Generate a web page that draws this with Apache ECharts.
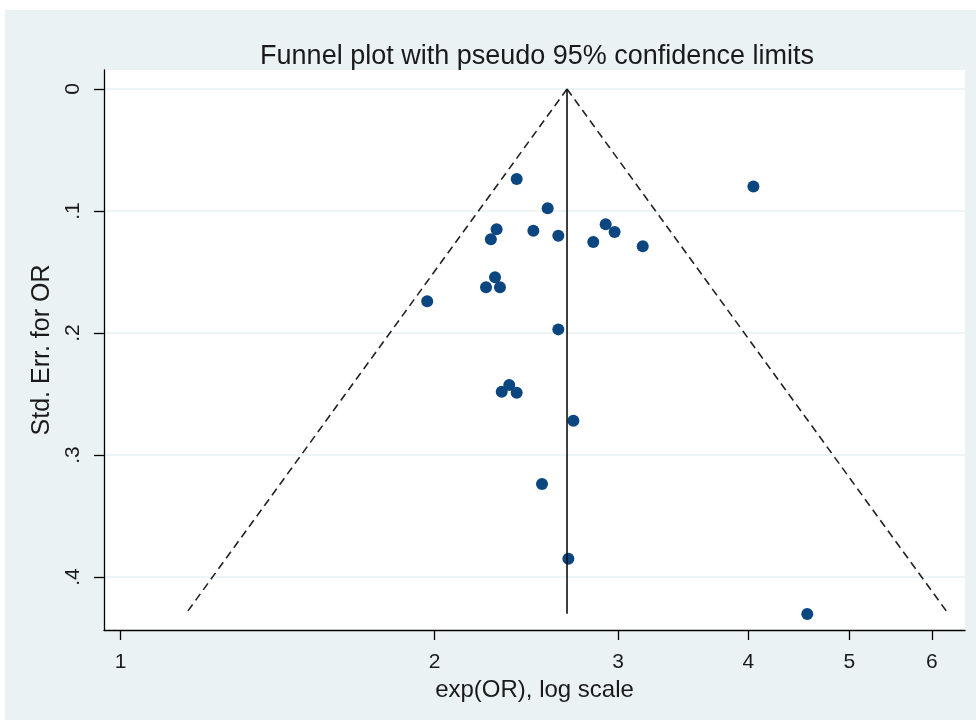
<!DOCTYPE html>
<html>
<head>
<meta charset="utf-8">
<script src="https://cdn.jsdelivr.net/npm/echarts@6/dist/echarts.min.js"></script>
<style>
  html, body { margin: 0; padding: 0; background: #ffffff; }
  #chart { position: absolute; left: 5px; top: 10px; width: 971px; height: 710px; }
</style>
</head>
<body>
<div id="chart"></div>
<script>
// ---- data ----
const studyOR = [2.398, 4.045, 2.568, 2.919, 2.977, 2.294, 2.265, 2.488, 2.629, 2.840, 3.168,
                 2.286, 2.241, 2.311, 1.968, 2.629, 2.320, 2.359, 2.398, 2.718, 2.536, 2.688, 4.556];
const studySE = [0.0738, 0.0798, 0.0978, 0.1109, 0.1172, 0.1150, 0.1232, 0.1161, 0.1202, 0.1254, 0.1289,
                 0.1543, 0.1625, 0.1625, 0.1740, 0.1970, 0.2481, 0.2426, 0.2489, 0.2719, 0.3238, 0.3850, 0.4303];
const pooledOR = 2.68;
const funnelSE = [0, 0.43];
const funnelLowerOR = [2.68, 1.155];
const funnelUpperOR = [2.68, 6.22];
const xTicks = [1, 2, 3, 4, 5, 6];
const yTicks = [0, 0.1, 0.2, 0.3, 0.4];
const titleText = 'Funnel plot with pseudo 95% confidence limits';
const xName = 'exp(OR), log scale';
const yName = 'Std. Err. for OR';

const points = studyOR.map((v, i) => [v, studySE[i]]);
const lowerLine = funnelSE.map((s, i) => [funnelLowerOR[i], s]);
const upperLine = funnelSE.map((s, i) => [funnelUpperOR[i], s]);
const centerLine = funnelSE.map(s => [pooledOR, s]);

const font = '"Liberation Sans", Arial, sans-serif';
const chart = echarts.init(document.getElementById('chart'));
chart.setOption({
  backgroundColor: '#eaf2f3',
  animation: false,
  title: {
    text: titleText,
    left: 527,
    textAlign: 'center',
    top: 28,
    textStyle: { fontFamily: font, fontSize: 27, fontWeight: 'normal', color: '#1a1a1a' }
  },
  grid: {
    left: 99, right: 11, top: 60, bottom: 90,
    show: true, backgroundColor: '#ffffff', borderWidth: 0
  },
  xAxis: {
    type: 'log',
    logBase: 10,
    min: 0.9638,
    max: 6.455,
    name: xName,
    nameLocation: 'middle',
    nameGap: 41,
    nameTextStyle: { fontFamily: font, fontSize: 24, color: '#1a1a1a' },
    axisLine: { show: true, onZero: false, lineStyle: { color: '#000', width: 1.3 } },
    axisTick: { show: true, length: 10, customValues: xTicks, lineStyle: { color: '#000', width: 1.3 } },
    axisLabel: {
      customValues: xTicks, margin: 22,
      fontFamily: font, fontSize: 21, color: '#1a1a1a',
      formatter: v => String(Math.round(v))
    },
    splitLine: { show: false },
    minorTick: { show: false }
  },
  yAxis: {
    type: 'value',
    inverse: true,
    min: -0.0156,
    max: 0.4434,
    name: yName,
    nameLocation: 'middle',
    nameGap: 45,
    nameRotate: 90,
    nameTextStyle: { fontFamily: font, fontSize: 25, color: '#1a1a1a' },
    axisLine: { show: true, onZero: false, lineStyle: { color: '#000', width: 1.3 } },
    axisTick: { show: true, length: 10, customValues: yTicks, lineStyle: { color: '#000', width: 1.3 } },
    axisLabel: {
      customValues: yTicks, margin: 20, rotate: 90,
      fontFamily: font, fontSize: 21, color: '#1a1a1a',
      formatter: v => (Math.abs(v) < 1e-9 ? '0' : String(Math.round(v * 10) / 10).replace(/^0\./, '.'))
    },
    splitLine: { show: true, lineStyle: { color: '#eaf2f3', width: 1.5 } }
  },
  series: [
    {
      type: 'line', data: lowerLine, symbol: 'none', silent: true,
      lineStyle: { color: '#222', width: 1.6, type: [8, 5] }
    },
    {
      type: 'line', data: upperLine, symbol: 'none', silent: true,
      lineStyle: { color: '#222', width: 1.6, type: [8, 5] }
    },
    {
      type: 'line', data: centerLine, symbol: 'none', silent: true,
      lineStyle: { color: '#111', width: 1.6 }
    },
    {
      type: 'scatter', data: points, symbolSize: 12,
      itemStyle: { color: '#0b4680', opacity: 1 }
    }
  ]
});
</script>
</body>
</html>
